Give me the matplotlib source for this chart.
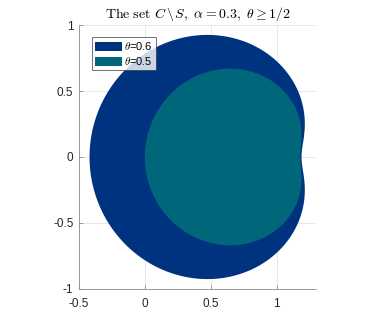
import numpy as np
import matplotlib
matplotlib.use("Agg")
import matplotlib.pyplot as plt

plt.rcParams['font.family'] = ['Liberation Sans', 'DejaVu Sans']
plt.rcParams['mathtext.fontset'] = 'cm'

# Data: each region is a limacon r = a - b*cos(phi) about a pole (pole_x, 0)
thetas = [0.6, 0.5]
pole_x = [0.901, 0.945]
coef_a = [0.805, 0.59]
coef_b = [0.516, 0.355]
colors = ['#00337f', '#00667a']
xticks = [-0.5, 0, 0.5, 1]
yticks = [-1, -0.5, 0, 0.5, 1]
xtick_labels = ['-0.5', '0', '0.5', '1']
ytick_labels = ['-1', '-0.5', '0', '0.5', '1']

fig = plt.figure(figsize=(3.82, 3.24), dpi=100)
ax = fig.add_axes([79/382, 35/324, 237/382, 264/324])

phi = np.linspace(0, 2*np.pi, 721)
for th, px, a, b, c in zip(thetas, pole_x, coef_a, coef_b, colors):
    r = a - b*np.cos(phi)
    ax.fill(px + r*np.cos(phi), r*np.sin(phi), color=c, lw=0,
            label=r'$\theta$=' + f'{th}')

ax.set_xlim(-0.5, 1.3)
ax.set_ylim(-1, 1)
ax.set_aspect('equal', adjustable='box')
ax.set_xticks(xticks)
ax.set_xticklabels(xtick_labels)
ax.set_yticks(yticks)
ax.set_yticklabels(ytick_labels)
ax.grid(True, color='#e3e3e3', lw=0.6)
ax.set_axisbelow(True)
for s in ['top', 'right']:
    ax.spines[s].set_visible(False)
for s in ['left', 'bottom']:
    ax.spines[s].set_color('#8c8c8c')
    ax.spines[s].set_linewidth(0.6)
ax.tick_params(direction='in', length=3, width=0.6, color='#8c8c8c',
               labelsize=8.5, labelcolor='#262626')
ax.tick_params(axis='x', pad=6.5)
ax.tick_params(axis='y', pad=4)

ax.set_title(r'$\mathrm{The\ set}\ C \,\backslash\, S,\ \alpha = 0.3,\ \theta \geq 1/2$',
             fontsize=10, pad=5)

leg = ax.legend(loc='upper left', bbox_to_anchor=(0.054, 0.956), borderaxespad=0,
                fontsize=8, frameon=True, fancybox=False, edgecolor='#333333',
                handlelength=2.4, handleheight=0.9, labelspacing=0.25,
                borderpad=0.3, handletextpad=0.2)
leg.get_frame().set_linewidth(0.6)

fig.savefig('out.png', dpi=100)
